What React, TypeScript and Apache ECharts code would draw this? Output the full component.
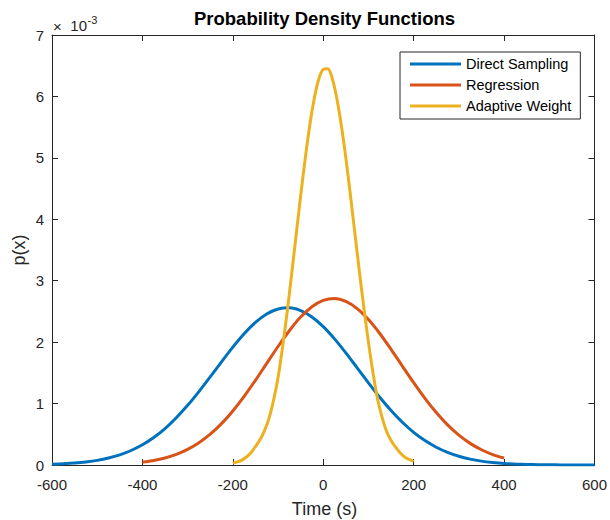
import React, { useEffect, useRef } from "react";
import * as echarts from "echarts";

// Time grid (s) and density values (×1e-3)
const directTime = [-600, -575, -550, -525, -500, -475, -450, -425, -400, -375, -350, -325, -300, -275, -250, -225, -200, -175, -150, -125, -100, -75, -50, -25, 0, 25, 50, 75, 100, 125, 150, 175, 200, 225, 250, 275, 300, 325, 350, 375, 400, 425, 450, 475, 500, 525, 550, 575, 600];
const directVals = [0.011, 0.019, 0.031, 0.049, 0.075, 0.113, 0.165, 0.236, 0.329, 0.448, 0.594, 0.770, 0.971, 1.195, 1.435, 1.680, 1.919, 2.137, 2.321, 2.458, 2.540, 2.559, 2.514, 2.410, 2.252, 2.053, 1.825, 1.582, 1.338, 1.103, 0.887, 0.696, 0.532, 0.397, 0.289, 0.205, 0.142, 0.096, 0.063, 0.041, 0.025, 0.016, 0.009, 0.005, 0.003, 0.002, 0.001, 0.0005, 0.0002];

const regTime = [-400, -375, -350, -325, -300, -275, -250, -225, -200, -175, -150, -125, -100, -75, -50, -25, 0, 25, 50, 75, 100, 125, 150, 175, 200, 225, 250, 275, 300, 325, 350, 375, 400];
const regVals = [0.047, 0.074, 0.115, 0.173, 0.254, 0.362, 0.501, 0.673, 0.880, 1.117, 1.379, 1.655, 1.929, 2.186, 2.408, 2.577, 2.680, 2.710, 2.663, 2.546, 2.367, 2.141, 1.883, 1.611, 1.340, 1.085, 0.854, 0.653, 0.486, 0.352, 0.248, 0.170, 0.113];

const adaptTime = [-200, -190, -180, -170, -160, -150, -140, -130, -120, -110, -100, -90, -80, -70, -60, -50, -40, -30, -20, -10, 0, 10, 20, 30, 40, 50, 60, 70, 80, 90, 100, 110, 120, 130, 140, 150, 160, 170, 180, 190, 200];
const adaptVals = [0.03, 0.05, 0.08, 0.13, 0.20, 0.30, 0.41, 0.56, 0.76, 1.05, 1.42, 1.92, 2.48, 3.10, 3.74, 4.38, 4.98, 5.52, 5.96, 6.28, 6.44, 6.45, 6.29, 5.97, 5.53, 5.00, 4.40, 3.77, 3.15, 2.55, 2.00, 1.50, 1.08, 0.78, 0.55, 0.40, 0.29, 0.20, 0.13, 0.09, 0.06];

const seriesNames = ["Direct Sampling", "Regression", "Adaptive Weight"];
const seriesColors = ["#0072BD", "#D95319", "#EDB120"];
const xTicks = { min: -600, max: 600, interval: 200 };
const yTicks = { min: 0, max: 7, interval: 1 };

const FONT = "'Liberation Sans', Arial, Helvetica, sans-serif";
const AX = "#262626";

const zip = (xs: number[], ys: number[]) => xs.map((x, i) => [x, ys[i]]);

export default function App() {
  const ref = useRef<HTMLDivElement>(null);
  useEffect(() => {
    if (!ref.current) return;
    const chart = echarts.init(ref.current, undefined, { renderer: "svg" });
    const axisCommon = {
      axisLine: { show: true, onZero: false, lineStyle: { color: AX, width: 1 } },
      axisTick: { show: true, inside: true, length: 6, lineStyle: { color: AX, width: 1 } },
      splitLine: { show: false },
    };
    const datasets = [zip(directTime, directVals), zip(regTime, regVals), zip(adaptTime, adaptVals)];
    chart.setOption({
      animation: false,
      textStyle: { fontFamily: FONT },
      title: {
        text: "Probability Density Functions",
        left: 324.5,
        top: 9,
        textAlign: "center",
        padding: 0,
        textStyle: { fontFamily: FONT, fontSize: 18.5, fontWeight: "bold", color: "#000" },
      },
      grid: { left: 52, right: 13, top: 35, bottom: 55, containLabel: false },
      xAxis: [
        {
          type: "value",
          position: "bottom",
          ...xTicks,
          ...axisCommon,
          axisLabel: { show: true, margin: 12, fontSize: 15, color: AX, fontFamily: FONT },
        },
        {
          type: "value",
          position: "top",
          ...xTicks,
          ...axisCommon,
          axisLabel: { show: false },
        },
      ],
      yAxis: [
        {
          type: "value",
          position: "left",
          ...yTicks,
          ...axisCommon,
          axisLabel: { show: true, margin: 8, fontSize: 15, color: AX, fontFamily: FONT },
        },
        {
          type: "value",
          position: "right",
          ...yTicks,
          ...axisCommon,
          axisLabel: { show: false },
        },
      ],
      legend: {
        orient: "vertical",
        left: 400,
        top: 52,
        padding: [4, 9, 5, 10],
        itemGap: 5,
        itemWidth: 51,
        itemHeight: 3,
        icon: "rect",
        borderColor: AX,
        borderWidth: 1,
        backgroundColor: "#fff",
        textStyle: { fontSize: 14.5, color: "#000", fontFamily: FONT, lineHeight: 16 },
        data: seriesNames,
      },
      series: datasets.map((d, i) => ({
        name: seriesNames[i],
        type: "line",
        data: d,
        showSymbol: false,
        smooth: 0.3,
        lineStyle: { color: seriesColors[i], width: 3 },
        itemStyle: { color: seriesColors[i] },
        z: 2 + i,
      })),
      graphic: [
        {
          type: "text",
          x: 324.5,
          y: 509,
          style: { text: "Time (s)", fontSize: 18, fontFamily: FONT, fill: AX, textAlign: "center", textVerticalAlign: "middle" },
        },
        {
          type: "text",
          x: 19,
          y: 250,
          rotation: Math.PI / 2,
          style: { text: "p(x)", fontSize: 18, fontFamily: FONT, fill: AX, textAlign: "center", textVerticalAlign: "middle" },
        },
        {
          type: "text",
          x: 53,
          y: 26,
          style: { text: "×", fontSize: 15, fontFamily: FONT, fill: AX, textAlign: "left", textVerticalAlign: "middle" },
        },
        {
          type: "text",
          x: 87,
          y: 25,
          style: { text: "10", fontSize: 15, fontFamily: FONT, fill: AX, textAlign: "right", textVerticalAlign: "middle" },
        },
        {
          type: "text",
          x: 87.5,
          y: 19.5,
          style: { text: "-3", fontSize: 11, fontFamily: FONT, fill: AX, textAlign: "left", textVerticalAlign: "middle" },
        },
      ],
    });
    return () => chart.dispose();
  }, []);
  return <div ref={ref} style={{ position: "fixed", left: 0, top: 0, width: 610, height: 520, background: "#fff" }} />;
}
